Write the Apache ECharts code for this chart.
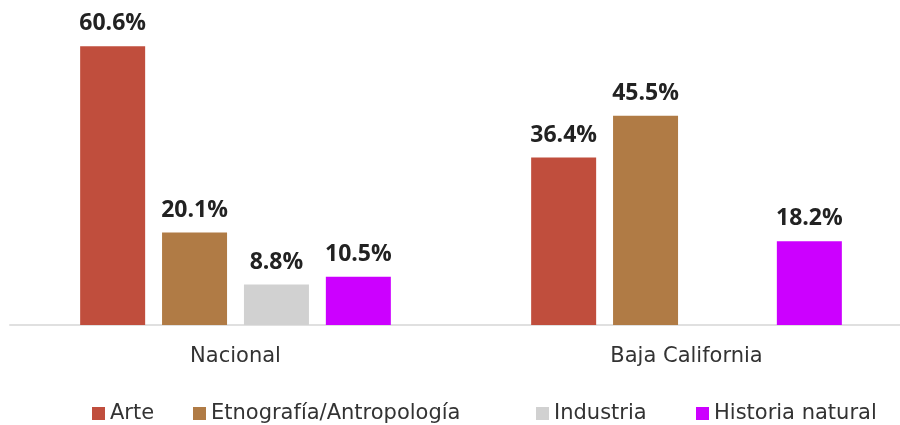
<!DOCTYPE html>
<html>
<head>
<meta charset="utf-8">
<script src="https://cdn.jsdelivr.net/npm/echarts@6/dist/echarts.min.js"></script>
<style>
  html, body { margin: 0; padding: 0; background: #fff; overflow: hidden; }
  #grafica { width: 912px; height: 425px; }
</style>
</head>
<body>
<div id="grafica"></div>
<script>
const categorias = ['Nacional', 'Baja California'];
const arte = [60.6, 36.4];
const etnografia = [20.1, 45.5];
const industria = [8.8, null];
const historia = [10.5, 18.2];

const nombres = ['Arte', 'Etnografía/Antropología', 'Industria', 'Historia natural'];
const colores = ['#c04e3d', '#b07b45', '#d1d1d1', '#cc00ff'];
// posición izquierda de cada elemento de la leyenda
const leyendaX = [87, 188, 531, 691];

const serie = (nombre, datos, color) => ({
  name: nombre,
  type: 'bar',
  data: datos,
  barWidth: 65,
  barGap: '26%',
  itemStyle: { color: color },
  label: {
    show: true,
    position: 'top',
    distance: 11,
    formatter: p => p.value.toFixed(1) + '%',
    fontFamily: 'Open Sans',
    fontWeight: 'bold',
    fontSize: 23,
    color: '#222'
  }
});

const leyenda = (nombre, x) => ({
  top: 398,
  left: x,
  itemWidth: 13,
  itemHeight: 13,
  itemGap: 0,
  icon: 'rect',
  textStyle: { fontFamily: 'DejaVu Sans', fontSize: 21, color: '#333' },
  data: [nombre]
});

const getOptionChart = () => {
  return {
    animation: false,
    grid: { left: 10, top: 3, right: 0, bottom: 100 },
    legend: nombres.map((n, i) => leyenda(n, leyendaX[i])),
    xAxis: {
      type: 'category',
      data: categorias,
      axisLine: { lineStyle: { color: '#e0e0e0', width: 2 } },
      axisTick: { show: false },
      axisLabel: { fontFamily: 'DejaVu Sans', fontSize: 21, color: '#333', margin: 21 }
    },
    yAxis: {
      type: 'value',
      min: 0,
      max: 70,
      show: false,
      splitLine: { show: false }
    },
    series: [
      serie(nombres[0], arte, colores[0]),
      serie(nombres[1], etnografia, colores[1]),
      serie(nombres[2], industria, colores[2]),
      serie(nombres[3], historia, colores[3])
    ]
  };
};

const initCharts = () => {
  const chart = echarts.init(document.querySelector('#grafica'));
  chart.setOption(getOptionChart());
};

window.addEventListener('load', () => {
  initCharts();
});
</script>
</body>
</html>
